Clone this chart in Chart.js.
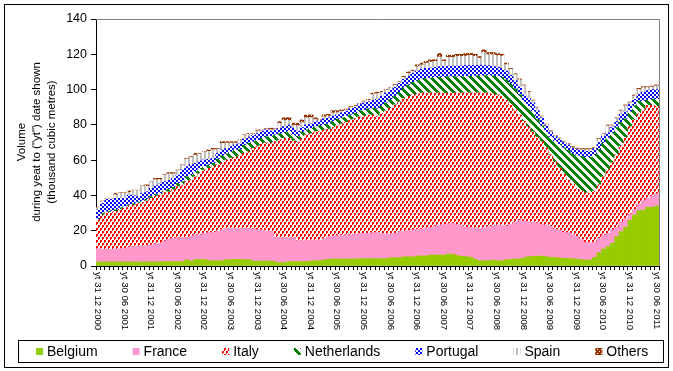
<!DOCTYPE html>
<html>
<head>
<meta charset="utf-8">
<script src="https://cdn.jsdelivr.net/npm/chart.js@4.4.0/dist/chart.umd.min.js"></script>
<style>
  html, body { margin: 0; padding: 0; background: #fff; }
  #wrap { width: 673px; height: 371px; }
</style>
</head>
<body>
<div id="wrap"><canvas id="myChart" width="673" height="371"></canvas></div>
<script>
var FONT = "'Liberation Sans', Arial, sans-serif"

// monthly "year to date" points, Dec 2000 .. Jun 2011
var firstYear = 2000, firstMonth = 12, monthCount = 127
var tickEvery = 6
var yTitle = ['Volume', 'during yeat to ("yt") date shown', '(thousand cubic metres)']

var belgium = [2.3,
  2.3,2.3,2.3,2.3,2.3,2.3,2.3,2.3,2.3,2.3,2.3,2.3,
  2.3,2.3,2.5,2.5,2.5,2.5,2.5,3.5,2.8,3.7,3.7,3.7,
  3.0,3.0,3.0,3.0,3.6,3.6,3.8,3.8,3.6,3.6,2.8,2.8,
  2.8,2.8,2.8,2.3,1.9,1.9,2.5,2.5,2.5,2.5,2.5,2.8,
  3.0,3.0,3.5,3.8,4.0,4.0,4.0,4.0,4.0,4.0,4.2,4.2,
  4.2,4.2,4.2,4.2,4.2,4.7,4.7,4.7,5.2,5.2,5.2,5.7,
  5.7,5.7,6.2,6.2,6.2,6.2,6.8,6.7,5.9,5.5,5.3,5.0,
  3.8,3.0,3.0,3.0,3.4,3.0,3.0,3.5,3.8,4.0,4.0,4.5,
  5.3,5.4,5.6,5.6,5.3,4.9,4.9,4.6,4.3,4.3,4.1,4.0,
  3.6,3.4,3.4,4.9,7.6,9.6,11.0,12.9,16.6,19.5,21.9,26.0,
  28.9,31.4,31.7,33.3,33.3,34.0]

var france = [7.5,
  7.3,7.1,7.1,7.3,7.5,7.9,8.3,8.6,8.9,9.1,9.3,9.7,
  10.2,10.7,11.7,12.8,13.2,13.5,13.8,12.8,14.2,13.9,13.9,14.7,
  15.9,16.2,16.8,17.6,17.7,17.9,17.5,17.4,17.6,17.6,18.2,17.8,
  17.6,17.0,16.7,13.8,14.2,14.2,13.6,13.6,11.9,11.9,12.1,11.9,
  11.7,11.7,12.0,12.8,13.0,13.3,13.6,13.6,13.6,14.0,14.3,14.3,
  14.3,14.7,14.8,14.1,13.9,13.4,13.8,14.8,14.6,15.0,15.4,15.1,
  15.3,15.8,15.8,16.3,17.0,17.3,17.2,17.5,17.6,17.2,16.7,16.7,
  17.7,18.3,18.5,19.3,19.1,20.2,20.2,19.2,19.7,21.0,22.0,21.1,
  19.8,19.4,18.8,17.9,17.9,17.6,16.1,15.8,14.9,14.6,13.9,12.8,
  11.4,10.1,9.8,8.6,8.1,7.9,7.5,7.6,5.4,5.5,5.0,3.5,
  3.0,3.5,5.3,5.2,6.2,7.0]

var italy = [16.3,
  19.3,20.8,21.1,21.4,22.2,22.5,23.4,23.6,24.3,24.6,25.4,26.4,
  27.0,27.2,27.4,26.7,27.4,29.0,29.6,31.5,31.8,33.0,34.9,36.0,
  36.5,37.1,37.7,37.9,38.8,39.6,40.3,41.3,42.7,43.6,45.7,47.4,
  49.2,50.0,50.5,54.4,55.4,56.3,56.3,54.9,55.6,57.6,59.7,60.3,
  61.5,61.8,61.5,60.9,61.5,62.2,62.9,63.9,65.2,65.5,66.0,66.5,
  67.0,66.6,66.0,68.2,69.9,71.4,72.8,73.5,75.2,75.8,76.4,76.7,
  77.0,76.5,76.0,75.5,74.8,74.4,73.9,73.7,74.5,75.3,76.2,76.5,
  76.7,76.9,76.5,75.7,75.0,73.8,72.8,71.3,68.0,63.5,59.5,56.4,
  53.9,51.2,48.6,47.0,43.8,40.5,38.0,35.1,32.8,30.1,28.5,27.2,
  27.5,28.0,28.0,29.0,30.3,33.0,36.0,38.0,41.0,43.0,46.0,49.5,
  51.0,51.5,51.5,52.5,51.5,49.5]

var netherlands = [0.5,
  0.9,0.6,0.7,0.8,1.0,0.9,0.6,0.7,0.7,0.7,0.8,1.0,
  0.9,1.0,1.2,1.4,1.5,1.8,1.9,2.8,2.8,2.9,2.9,2.0,
  1.8,1.9,3.0,4.0,3.4,3.7,4.2,3.5,4.6,4.8,3.8,3.2,
  2.8,3.4,3.5,3.8,3.5,3.1,3.8,3.0,3.3,4.0,2.8,3.0,
  2.8,3.0,3.0,3.0,3.5,3.7,3.5,3.5,2.8,3.0,3.5,3.4,
  3.5,3.9,4.0,4.2,4.5,4.8,5.0,5.5,6.0,6.5,7.0,7.5,
  8.0,8.3,8.5,8.8,9.0,9.2,9.4,9.4,9.3,9.2,9.3,9.4,
  9.5,9.6,9.8,10.0,10.2,10.5,11.0,11.5,11.8,12.0,11.5,11.0,
  11.5,11.5,10.0,9.0,9.0,10.0,11.5,13.5,15.0,16.5,17.0,18.5,
  19.5,20.0,20.3,20.5,20.0,19.0,18.0,17.0,15.5,13.5,10.5,8.5,
  8.0,7.0,5.0,3.0,3.5,4.0]

var portugal = [5.1,
  5.7,7.0,6.6,6.6,5.4,4.8,5.6,4.6,3.1,4.3,4.3,4.6,
  5.1,5.3,5.0,5.1,5.1,4.7,6.6,5.7,5.9,4.7,4.1,3.7,
  3.3,2.9,3.4,3.3,3.0,3.0,3.0,3.2,3.5,3.5,3.5,3.8,
  4.0,4.0,3.0,2.8,3.0,3.5,3.7,4.0,3.0,2.5,2.8,2.5,
  2.6,2.8,3.5,3.5,3.0,2.5,2.8,2.8,3.5,3.5,3.5,4.0,
  4.0,4.5,5.5,5.5,5.5,5.2,5.0,5.0,4.8,5.0,5.2,5.5,
  5.5,5.7,5.8,5.8,6.0,6.0,6.0,6.0,6.0,6.2,6.2,6.0,
  6.0,6.0,5.8,5.5,5.5,5.3,5.0,5.0,4.8,4.5,4.5,4.0,
  4.5,5.0,5.0,4.5,3.5,3.0,3.0,3.0,3.0,3.0,3.2,3.5,
  3.5,3.5,3.5,3.5,4.0,4.0,3.0,3.0,3.5,4.5,4.0,4.0,
  3.5,4.0,5.0,5.5,5.5,5.5]

var spain = [1.4,
  1.1,0.5,0.5,2.0,3.0,3.0,1.5,3.0,3.5,4.2,3.1,3.6,
  3.4,2.4,3.9,3.6,2.4,2.7,2.6,4.4,4.0,4.7,4.0,4.3,
  4.5,4.8,2.4,3.7,3.2,1.9,0.9,2.0,1.9,1.7,0.9,1.6,
  0.4,0.5,0.8,0.6,2.8,3.5,2.7,1.8,3.1,2.8,4.1,3.6,
  1.4,0.3,1.1,1.0,1.8,1.3,0.9,0.7,0.7,0.6,0.4,0.7,
  1.0,3.3,3.2,2.3,1.6,1.2,1.3,0.7,1.2,1.7,1.3,2.5,
  2.5,3.0,3.3,3.4,5.5,2.9,5.0,5.0,5.5,5.4,5.3,5.8,
  5.1,3.9,7.4,6.3,6.6,6.5,7.0,3.7,3.4,3.5,4.0,5.2,
  3.6,1.2,1.7,0.7,0.7,0.4,0.3,0.3,0.3,0.3,0.3,0.3,
  0.4,0.9,1.0,0.3,2.0,1.4,3.9,1.0,1.6,2.0,3.4,1.1,
  2.0,2.7,2.5,1.6,1.5,2.0]

var others = [0.2,
  0.2,0.1,0.1,0.8,0.2,0.2,0.8,0.2,0.2,0.3,0.8,0.2,
  0.8,0.8,0.3,0.8,0.8,0.3,0.3,0.4,0.5,1.0,0.4,0.4,
  0.8,0.8,0.4,1.0,0.8,0.8,0.8,0.3,0.4,0.4,0.3,0.5,
  0.3,0.3,0.8,0.3,1.0,1.5,1.5,1.2,1.5,1.5,1.5,1.5,
  1.0,0.3,1.0,1.0,1.2,1.0,0.8,0.5,0.5,0.4,0.3,0.4,
  0.5,0.8,0.8,0.5,0.4,0.3,0.4,0.3,0.5,0.8,0.5,1.0,
  1.0,1.0,1.2,1.0,2.0,1.0,1.2,1.2,1.2,1.2,1.5,1.2,
  1.2,1.0,1.5,1.2,1.2,1.2,1.0,0.8,0.5,0.5,0.5,0.4,
  0.4,0.3,0.3,0.3,0.3,0.3,0.3,0.3,0.4,0.5,0.6,0.5,
  0.6,0.6,0.5,0.3,0.4,0.3,0.5,0.4,0.4,0.4,0.5,0.4,
  0.5,0.6,0.6,0.5,0.5,0.6]

// category labels "yt <last day> <month> <year>"
var months = []
for (let k = 0; k < monthCount; k++) {
  let m = (firstMonth - 1 + k) % 12 + 1
  let y = firstYear + Math.floor((firstMonth - 1 + k) / 12)
  let d = new Date(y, m, 0).getDate()
  months.push('yt ' + d + ' ' + String(m).padStart(2, '0') + ' ' + y)
}

var canvas = document.getElementById('myChart')
var ctx = canvas.getContext('2d')

// excel-like fill patterns
function makePattern(w, h, bg, fg, cells) {
  let c = document.createElement('canvas')
  c.width = w
  c.height = h
  let g = c.getContext('2d')
  g.fillStyle = bg
  g.fillRect(0, 0, w, h)
  g.fillStyle = fg
  cells.forEach(r => g.fillRect(r[0], r[1], r[2], r[3]))
  return ctx.createPattern(c, 'repeat')
}

var diag = []
for (let yy = 0; yy < 8; yy++) {
  for (let xx = 0; xx < 8; xx++) {
    if ((xx - yy + 8) % 8 < 4) diag.push([xx, yy, 1, 1])
  }
}

var fillItaly = makePattern(4, 6, '#ffffff', '#ff0000', [[0, 0, 2, 2], [2, 3, 2, 2], [0, 2, 1, 1], [2, 5, 1, 1]])
var fillNetherlands = makePattern(8, 8, '#ffffff', '#008000', diag)
var fillPortugal = makePattern(4, 4, '#ffffff', '#0000ff', [[0, 0, 2, 2], [2, 2, 2, 2]])
var fillSpain = makePattern(4, 1, '#ffffff', '#c0c0c0', [[0, 0, 2, 1]])
var fillOthers = makePattern(4, 4, '#993300', '#ffffff', [[1, 1, 1, 1], [3, 3, 1, 1]])

var decorPlugin = {
    id: 'decor',
    beforeDraw(chart) {
        const c = chart.ctx
        c.save()
        c.fillStyle = '#ffffff'
        c.fillRect(0, 0, chart.width, chart.height)
        c.restore()
    },
    afterDraw(chart) {
        const c = chart.ctx
        const area = chart.chartArea
        const xs = chart.scales.x
        c.save()

        // plot area border (top + right)
        c.strokeStyle = '#808080'
        c.lineWidth = 1
        c.beginPath()
        c.moveTo(area.left, area.top + 0.5)
        c.lineTo(area.right + 0.5, area.top + 0.5)
        c.lineTo(area.right + 0.5, area.bottom)
        c.stroke()

        // outer frame + legend frame
        c.strokeStyle = '#000000'
        c.strokeRect(4.5, 4.5, 664, 363)
        c.strokeRect(18.5, 340.5, 645, 22)

        // y axis title
        c.fillStyle = '#000000'
        c.font = '11.5px ' + FONT
        c.textAlign = 'center'
        c.textBaseline = 'middle'
        yTitle.forEach((t, k) => {
            c.save()
            c.translate(22 + k * 15, 142)
            c.rotate(-Math.PI / 2)
            c.fillText(t, 0, 0)
            c.restore()
        })

        // x tick labels, reading downwards
        c.font = '9.6px ' + FONT
        c.textAlign = 'left'
        for (let i = 0; i < months.length; i += tickEvery) {
            const x = xs.getPixelForValue(i)
            c.save()
            c.translate(x, area.bottom + 6)
            c.rotate(Math.PI / 2)
            c.fillText(months[i], 0, 0.5)
            c.restore()
        }

        // legend
        c.font = '14px ' + FONT
        c.textBaseline = 'middle'
        let lx = 36
        chart.data.datasets.forEach(ds => {
            c.fillStyle = ds.backgroundColor
            c.fillRect(lx, 348, 7, 7)
            c.fillStyle = '#000000'
            c.fillText(ds.label, lx + 11, 352)
            lx += 11 + c.measureText(ds.label).width + 35
        })
        c.restore()
    }
}

var chart = new Chart(ctx, {
    type: 'bar',
    data: {
        labels: months,
        datasets: [
            { label: 'Belgium', data: belgium, backgroundColor: '#99cc00' },
            { label: 'France', data: france, backgroundColor: '#ff99cc' },
            { label: 'Italy', data: italy, backgroundColor: fillItaly },
            { label: 'Netherlands', data: netherlands, backgroundColor: fillNetherlands },
            { label: 'Portugal', data: portugal, backgroundColor: fillPortugal },
            { label: 'Spain', data: spain, backgroundColor: fillSpain },
            { label: 'Others', data: others, backgroundColor: fillOthers }
        ]
    },
    options: {
        responsive: false,
        animation: false,
        devicePixelRatio: 1,
        layout: { padding: { left: 0, right: 14, top: 19, bottom: 0 } },
        datasets: {
            bar: { categoryPercentage: 1, barPercentage: 1, borderWidth: 0 }
        },
        scales: {
            x: {
                stacked: true,
                ticks: { display: false, autoSkip: false },
                grid: { drawOnChartArea: false, drawTicks: true, tickLength: 4, color: '#000000' },
                border: { color: '#000000' },
                afterFit: s => { s.height = 105 }
            },
            y: {
                stacked: true,
                min: 0,
                max: 140,
                ticks: { stepSize: 20, color: '#000000', padding: 4, font: { family: FONT, size: 12.5 } },
                grid: { drawOnChartArea: false, drawTicks: true, tickLength: 5, color: '#000000' },
                border: { color: '#000000' },
                afterFit: s => { s.width = 96 }
            }
        },
        plugins: {
            legend: { display: false },
            tooltip: { enabled: false }
        }
    },
    plugins: [decorPlugin]
})
</script>
</body>
</html>
